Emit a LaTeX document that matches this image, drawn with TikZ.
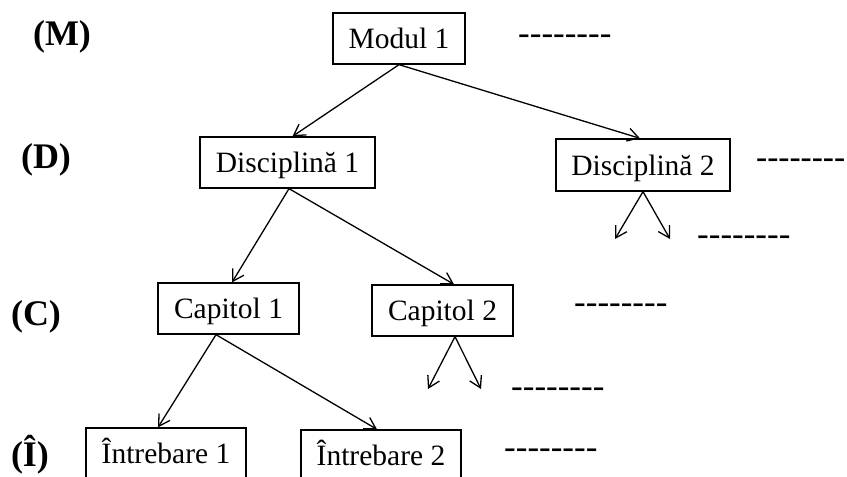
\documentclass[tikz,border=0pt]{standalone}
\usepackage{fontspec}
\setmainfont{Liberation Serif}
\usetikzlibrary{arrows.meta}
\newcommand\hyph{\mbox{-}}
\newcommand\dashrow{\hyph\hyph\hyph\hyph\hyph\hyph\hyph\hyph}
\begin{document}
\begin{tikzpicture}[x=1pt,y=-1pt,
  box/.style={draw, line width=1.3pt, inner sep=0pt, font=\fontsize{29.5}{34}\selectfont, text height=20pt, text depth=0pt, minimum height=51pt},
  lvl/.style={font=\fontsize{36}{42}\selectfont\bfseries, text height=25pt, text depth=8pt, inner sep=0pt},
  dots/.style={font=\fontsize{35}{40}\selectfont, anchor=base west, inner sep=0pt},
  arr/.style={-{Straight Barb[length=11pt,width=13pt]}, line width=1.3pt}]
\useasboundingbox[fill=white] (0,0) rectangle (847,477);
% level labels
\node[lvl] (lm) at (62,37) {(M)};
\node[lvl] (ld) at (46,160) {(D)};
\node[lvl] (lc) at (36,317) {(C)};
\node[lvl] (li) at (30,458) {(Î)};
% boxes
\node[box, minimum width=132pt] (m) at (399,38.5) {Modul 1};
\node[box, minimum width=175pt] (d1) at (287.5,162.5) {Disciplină 1};
\node[box, minimum width=174pt, minimum height=52pt] (d2) at (643,165) {Disciplină 2};
\node[box, minimum width=141pt] (c1) at (228.5,308.5) {Capitol 1};
\node[box, minimum width=141pt] (c2) at (442.5,310.5) {Capitol 2};
\node[box, minimum width=160pt] (i1) at (166,453.5) {Întrebare 1};
\node[box, minimum width=160pt] (i2) at (381,455.5) {Întrebare 2};
% free ends
\coordinate (d2a) at (615,239);
\coordinate (d2b) at (670,239);
\coordinate (c2a) at (428,389);
\coordinate (c2b) at (481,389);
% connectors
\draw[arr] (m.south) -- ([xshift=5pt]d1.north);
\draw[arr] (m.south) -- ([xshift=-3pt]d2.north);
\draw[arr] ([xshift=1.5pt]d1.south) -- ([xshift=3.5pt]c1.north);
\draw[arr] ([xshift=1.5pt]d1.south) -- ([xshift=11.5pt]c2.north);
\draw[arr] (d2.south) -- (d2a);
\draw[arr] (d2.south) -- (d2b);
\draw[arr] ([xshift=-12.5pt]c1.south) -- ([xshift=-8pt]i1.north);
\draw[arr] ([xshift=-12.5pt]c1.south) -- ([xshift=-4pt]i2.north);
\draw[arr] ([xshift=12.5pt]c2.south) -- (c2a);
\draw[arr] ([xshift=12.5pt]c2.south) -- (c2b);
% dashes
\node[dots] (t1) at (518,44.5) {\dashrow};
\node[dots] (t2) at (756,168) {\scalebox{0.955}[1]{\dashrow}};
\node[dots] (t3) at (697,245.5) {\dashrow};
\node[dots] (t4) at (574,313) {\dashrow};
\node[dots] (t5) at (511,397.5) {\dashrow};
\node[dots] (t6) at (504,458.5) {\dashrow};
\end{tikzpicture}
\end{document}
